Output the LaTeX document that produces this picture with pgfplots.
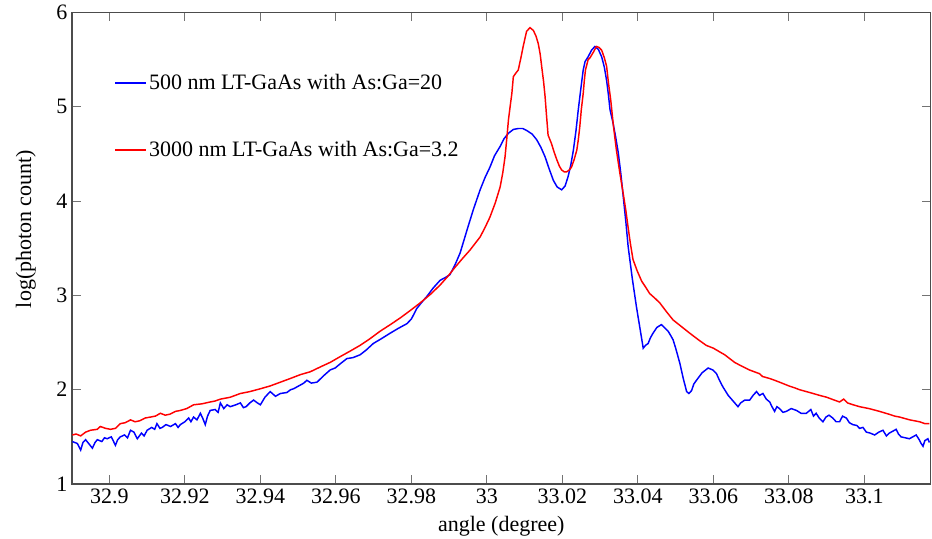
\documentclass[border=0pt]{standalone}
\usepackage{fontspec}
\setmainfont{Liberation Serif}
\usepackage{pgfplots}
\pgfplotsset{compat=1.18}
\usepackage{pgfplotstable}

\pgfplotstableread{
x y
32.8902 1.45
32.8915 1.43
32.8924 1.36
32.8930 1.44
32.8937 1.47
32.8945 1.43
32.8955 1.38
32.8962 1.44
32.8968 1.47
32.8980 1.45
32.8987 1.49
32.8994 1.48
32.9005 1.50
32.9010 1.46
32.9016 1.41
32.9022 1.47
32.9029 1.50
32.9040 1.52
32.9048 1.49
32.9056 1.57
32.9065 1.55
32.9074 1.48
32.9085 1.54
32.9092 1.51
32.9100 1.57
32.9112 1.60
32.9120 1.58
32.9126 1.64
32.9134 1.59
32.9140 1.60
32.9150 1.63
32.9162 1.61
32.9175 1.64
32.9182 1.60
32.9188 1.63
32.9200 1.66
32.9210 1.70
32.9216 1.66
32.9223 1.71
32.9232 1.68
32.9241 1.75
32.9247 1.70
32.9254 1.63
32.9260 1.72
32.9267 1.78
32.9280 1.79
32.9288 1.76
32.9294 1.86
32.9303 1.80
32.9312 1.84
32.9320 1.82
32.9335 1.84
32.9347 1.86
32.9355 1.81
32.9362 1.82
32.9372 1.86
32.9382 1.89
32.9392 1.86
32.9400 1.84
32.9412 1.92
32.9426 1.98
32.9440 1.93
32.9453 1.96
32.9470 1.97
32.9480 2.00
32.9488 2.01
32.9506 2.05
32.9515 2.07
32.9523 2.10
32.9535 2.07
32.9550 2.08
32.9568 2.15
32.9585 2.21
32.9598 2.23
32.9610 2.27
32.9629 2.33
32.9645 2.34
32.9664 2.37
32.9680 2.42
32.9699 2.49
32.9720 2.54
32.9744 2.60
32.9765 2.65
32.9788 2.70
32.9800 2.75
32.9814 2.86
32.9828 2.93
32.9841 2.99
32.9858 3.08
32.9876 3.16
32.9890 3.19
32.9902 3.22
32.9915 3.32
32.9929 3.45
32.9947 3.69
32.9964 3.91
32.9982 4.12
32.9995 4.25
33.0008 4.36
33.0020 4.48
33.0035 4.58
33.0045 4.66
33.0057 4.72
33.0070 4.76
33.0083 4.77
33.0095 4.77
33.0105 4.75
33.0120 4.71
33.0132 4.65
33.0143 4.57
33.0154 4.47
33.0165 4.34
33.0176 4.22
33.0186 4.15
33.0198 4.12
33.0207 4.16
33.0215 4.26
33.0222 4.38
33.0229 4.54
33.0236 4.75
33.0242 4.97
33.0249 5.20
33.0255 5.39
33.0260 5.48
33.0268 5.53
33.0277 5.60
33.0286 5.64
33.0295 5.61
33.0304 5.53
33.0311 5.42
33.0317 5.28
33.0322 5.12
33.0326 4.97
33.0330 4.90
33.0334 4.83
33.0341 4.68
33.0348 4.51
33.0355 4.28
33.0361 4.05
33.0368 3.78
33.0374 3.52
33.0385 3.18
33.0396 2.88
33.0405 2.66
33.0414 2.44
33.0420 2.47
33.0427 2.49
33.0433 2.55
33.0440 2.60
33.0450 2.66
33.0462 2.69
33.0470 2.66
33.0480 2.62
33.0486 2.58
33.0493 2.53
33.0500 2.44
33.0511 2.28
33.0520 2.12
33.0529 1.98
33.0535 1.96
33.0542 1.99
33.0548 2.06
33.0555 2.10
33.0570 2.18
33.0586 2.23
33.0598 2.21
33.0608 2.17
33.0616 2.10
33.0625 2.03
33.0639 1.94
33.0652 1.88
33.0665 1.82
33.0672 1.86
33.0683 1.89
33.0696 1.89
33.0705 1.94
33.0714 1.98
33.0722 1.94
33.0731 1.96
33.0740 1.90
33.0749 1.87
33.0755 1.82
33.0762 1.77
33.0768 1.82
33.0775 1.80
33.0784 1.76
33.0793 1.77
33.0806 1.80
33.0820 1.78
33.0832 1.75
33.0846 1.75
33.0858 1.79
33.0865 1.72
33.0872 1.75
33.0880 1.70
33.0890 1.66
33.0898 1.71
33.0906 1.73
33.0916 1.70
33.0925 1.66
33.0934 1.66
33.0942 1.72
33.0952 1.70
33.0960 1.65
33.0969 1.63
33.0980 1.62
33.0987 1.59
33.0996 1.60
33.1005 1.55
33.1015 1.54
33.1027 1.52
33.1038 1.55
33.1049 1.57
33.1058 1.51
33.1066 1.54
33.1075 1.56
33.1084 1.58
33.1090 1.53
33.1097 1.50
33.1108 1.49
33.1119 1.48
33.1128 1.50
33.1137 1.52
33.1145 1.47
33.1150 1.43
33.1155 1.40
33.1160 1.46
33.1168 1.48
33.1172 1.44
}\bluedata

\pgfplotstableread{
x y
32.8902 1.52
32.8912 1.53
32.8924 1.51
32.8937 1.55
32.8950 1.57
32.8968 1.58
32.8976 1.61
32.8990 1.59
32.9003 1.58
32.9016 1.59
32.9029 1.64
32.9042 1.65
32.9056 1.68
32.9068 1.66
32.9080 1.67
32.9095 1.70
32.9109 1.71
32.9122 1.72
32.9135 1.75
32.9148 1.73
32.9160 1.74
32.9175 1.77
32.9188 1.78
32.9205 1.80
32.9223 1.84
32.9245 1.85
32.9267 1.87
32.9280 1.88
32.9294 1.90
32.9320 1.92
32.9347 1.96
32.9372 1.98
32.9400 2.01
32.9426 2.04
32.9453 2.08
32.9480 2.12
32.9506 2.16
32.9532 2.19
32.9558 2.24
32.9585 2.29
32.9611 2.35
32.9638 2.41
32.9664 2.47
32.9690 2.54
32.9717 2.62
32.9744 2.69
32.9770 2.76
32.9797 2.84
32.9823 2.92
32.9850 3.01
32.9876 3.11
32.9896 3.20
32.9916 3.30
32.9935 3.39
32.9955 3.48
32.9982 3.62
32.9995 3.72
33.0008 3.83
33.0022 3.98
33.0035 4.15
33.0042 4.30
33.0048 4.47
33.0053 4.68
33.0057 4.86
33.0062 5.02
33.0066 5.14
33.0070 5.32
33.0077 5.36
33.0083 5.39
33.0090 5.52
33.0096 5.64
33.0105 5.80
33.0114 5.84
33.0123 5.81
33.0130 5.75
33.0136 5.67
33.0141 5.56
33.0145 5.43
33.0150 5.27
33.0154 5.11
33.0158 4.90
33.0162 4.70
33.0171 4.61
33.0178 4.52
33.0185 4.44
33.0192 4.37
33.0198 4.33
33.0205 4.31
33.0211 4.31
33.0218 4.33
33.0224 4.36
33.0231 4.44
33.0238 4.54
33.0242 4.65
33.0246 4.79
33.0250 4.97
33.0255 5.14
33.0258 5.28
33.0261 5.39
33.0268 5.50
33.0273 5.52
33.0282 5.58
33.0290 5.64
33.0297 5.63
33.0304 5.60
33.0311 5.52
33.0317 5.43
33.0322 5.25
33.0328 5.07
33.0335 4.80
33.0343 4.54
33.0352 4.30
33.0361 4.08
33.0368 3.90
33.0374 3.72
33.0380 3.55
33.0387 3.38
33.0398 3.26
33.0410 3.15
33.0420 3.09
33.0431 3.02
33.0445 2.97
33.0458 2.92
33.0475 2.83
33.0493 2.74
33.0515 2.67
33.0537 2.60
33.0560 2.53
33.0581 2.47
33.0600 2.44
33.0617 2.40
33.0630 2.37
33.0643 2.33
33.0656 2.29
33.0670 2.26
33.0695 2.21
33.0715 2.18
33.0722 2.17
33.0730 2.14
33.0748 2.12
33.0762 2.10
33.0775 2.08
33.0800 2.04
33.0815 2.02
33.0828 2.00
33.0855 1.97
33.0881 1.94
33.0900 1.92
33.0920 1.89
33.0934 1.87
33.0945 1.90
33.0955 1.86
33.0970 1.84
33.0987 1.82
33.1012 1.80
33.1040 1.77
33.1065 1.74
33.1080 1.72
33.1093 1.71
33.1120 1.68
33.1146 1.66
33.1160 1.64
33.1172 1.64
}\reddata

\pgfplotsset{
  mylegend/.style={
    legend style={draw=none, fill=none, at={(axis description cs:0.049,#1)}, anchor=north west,
      inner sep=0pt, font=\rmfamily\fontsize{16.5}{19}\selectfont},
    legend cell align=left,
    legend image code/.code={\draw[##1] (0pt,0pt) -- (23pt,0pt);},
  },
  common/.style={
    scale only axis,
    width=643.9pt, height=353.6pt,
    xmin=32.8901, xmax=33.1175,
    ymin=1, ymax=6,
    font=\rmfamily\fontsize{16.5}{19}\selectfont,
  },
}

\begin{document}
\begin{tikzpicture}
\begin{axis}[
  name=ax,
  common,
  mylegend=0.875,
  /pgf/number format/assume math mode=true,
  xtick={32.9,32.92,32.94,32.96,32.98,33,33.02,33.04,33.06,33.08,33.1},
  xticklabels={32.9,32.92,32.94,32.96,32.98,33,33.02,33.04,33.06,33.08,33.1},
  ytick={1,2,3,4,5,6},
  yticklabels={1,2,3,4,5,6},
  tick label style={font=\rmfamily\fontsize{16.5}{19}\selectfont},
  tick align=inside,
  major tick length=6.5pt,
  every tick/.style={black!55, line width=0.8pt},
  axis line style={black!70, line width=0.8pt},
  xlabel={angle (degree)},
  ylabel={log(photon count)},
  xlabel style={at={(axis description cs:0.5,0)}, anchor=north, yshift=-21pt},
  ylabel style={at={(axis description cs:0,0.541)}, anchor=south, yshift=23.5pt},
]
\addplot[color=blue, line width=1.1pt] table[x=x,y=y] {\bluedata};
\addlegendentry{500 nm LT-GaAs with As:Ga=20}
\end{axis}
\begin{axis}[
  common,
  mylegend=0.733,
  at={(ax.south west)}, anchor=south west,
  hide axis,
]
\addplot[color=red, line width=1.1pt] table[x=x,y=y] {\reddata};
\addlegendentry{3000 nm LT-GaAs with As:Ga=3.2}
\end{axis}
\pgfresetboundingbox
\path ([shift={(-54pt,-41.25pt)}]ax.south west) rectangle ([shift={(1.1pt,9.4pt)}]ax.north east);
\end{tikzpicture}
\end{document}
